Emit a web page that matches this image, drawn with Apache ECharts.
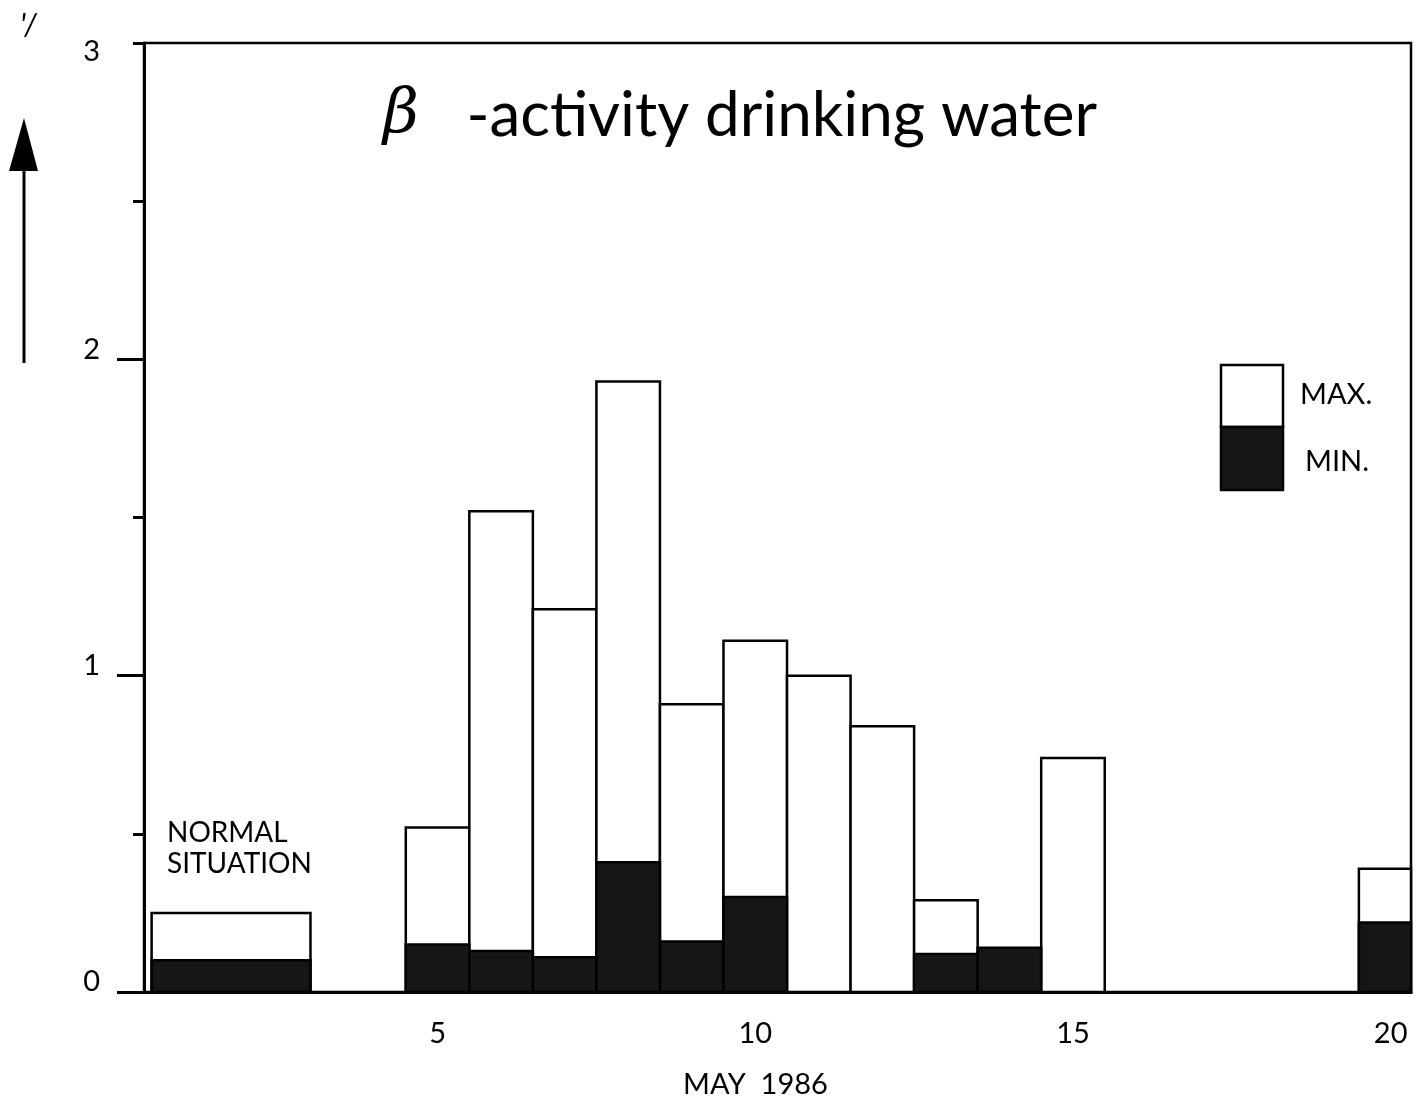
<!DOCTYPE html>
<html>
<head>
<meta charset="utf-8">
<title>β-activity drinking water</title>
<script src="https://cdn.jsdelivr.net/npm/echarts@6/dist/echarts.min.js"></script>
<style>
  html, body { margin: 0; padding: 0; background: #fff; }
  #chart { width: 1418px; height: 1104px; }
</style>
</head>
<body>
<div id="chart"></div>
<script>
// Sampling periods (days of May 1986); the first one is the normal background level
const periodLabels = ['NORMAL SITUATION', '5', '6', '7', '8', '9', '10', '11', '12', '13', '14', '15', '20'];
const periodFrom = [0.5, 4.5, 5.5, 6.5, 7.5, 8.5, 9.5, 10.5, 11.5, 12.5, 13.5, 14.5, 19.5];
const periodTo   = [3.0, 5.5, 6.5, 7.5, 8.5, 9.5, 10.5, 11.5, 12.5, 13.5, 14.5, 15.5, 20.5];

// Beta activity, maximum and minimum per day
const maxValues = [0.25, 0.52, 1.52, 1.21, 1.93, 0.91, 1.11, 1.00, 0.84, 0.29, null, 0.74, 0.39];
const minValues = [0.10, 0.15, 0.13, 0.11, 0.41, 0.16, 0.30, null, null, 0.12, 0.14, null, 0.22];

// Axis ticks
const dayTicks = [5, 10, 15, 20];
const majorTicks = [0, 1, 2];
const minorTicks = [0.5, 1.5, 2.5, 3];

const FONT = 'Lato, "DejaVu Sans", sans-serif';

function toItems(values) {
  const out = [];
  values.forEach(function (v, i) {
    if (v != null) out.push([periodFrom[i], periodTo[i], v, periodLabels[i]]);
  });
  return out;
}

function boxRenderer(fill) {
  return function (params, api) {
    const p0 = api.coord([api.value(0), 0]);
    const p1 = api.coord([api.value(1), api.value(2)]);
    const shape = echarts.graphic.clipRectByRect({
      x: p0[0], y: p1[1], width: p1[0] - p0[0], height: p0[1] - p1[1]
    }, {
      x: params.coordSys.x, y: params.coordSys.y - 2,
      width: params.coordSys.width, height: params.coordSys.height + 4
    });
    if (!shape) return null;
    return {
      type: 'rect',
      shape: shape,
      style: { fill: fill, stroke: '#000', lineWidth: 2.5 }
    };
  };
}

const chart = echarts.init(document.getElementById('chart'), null, { renderer: 'canvas' });

chart.setOption({
  backgroundColor: '#fff',
  animation: false,
  title: {
    text: '{beta|β}   -activity drinking water',
    left: 378,
    top: 80,
    textStyle: {
      fontFamily: FONT,
      fontSize: 62,
      fontWeight: 'normal',
      color: '#000',
      rich: {
        beta: {
          fontFamily: '"DejaVu Serif", serif',
          fontStyle: 'italic',
          fontSize: 62,
          color: '#000'
        }
      }
    }
  },
  grid: {
    left: 144, right: 7, top: 43, bottom: 110,
    show: true, borderColor: '#000', borderWidth: 2.5, backgroundColor: 'transparent'
  },
  xAxis: {
    type: 'value',
    min: 0.38,
    max: 20.32,
    name: 'MAY  1986',
    nameLocation: 'middle',
    nameGap: 78,
    nameTextStyle: {
      fontFamily: FONT, fontSize: 29, color: '#000', padding: [0, 44, 0, 0]
    },
    axisLine: { show: true, onZero: false, lineStyle: { color: '#000', width: 3 } },
    axisTick: { show: false },
    splitLine: { show: false },
    axisLabel: {
      customValues: dayTicks,
      margin: 27,
      fontFamily: FONT, fontSize: 29, color: '#000'
    }
  },
  yAxis: [
    {
      type: 'value',
      min: 0, max: 3, interval: 1,
      position: 'left',
      axisLine: { show: true, lineStyle: { color: '#000', width: 3 } },
      axisTick: { show: true, customValues: majorTicks, length: 27, lineStyle: { color: '#000', width: 3 } },
      splitLine: { show: false },
      axisLabel: {
        margin: 44,
        formatter: function (v) { return v === 3 ? '{low|' + v + '}' : '{up|' + v + '}'; },
        rich: {
          low: { fontFamily: FONT, fontSize: 29, color: '#000', padding: [18, 0, 0, 0] },
          up: { fontFamily: FONT, fontSize: 29, color: '#000', padding: [0, 0, 20, 0] }
        }
      }
    },
    {
      type: 'value',
      min: 0, max: 3, interval: 0.5,
      position: 'left',
      axisLine: { show: false },
      axisTick: { show: true, customValues: minorTicks, length: 11, lineStyle: { color: '#000', width: 3 } },
      splitLine: { show: false },
      axisLabel: { show: false }
    }
  ],
  series: [
    {
      name: 'MAX.',
      type: 'custom',
      renderItem: boxRenderer('#ffffff'),
      encode: { x: [0, 1], y: 2 },
      data: toItems(maxValues),
      z: 2
    },
    {
      name: 'MIN.',
      type: 'custom',
      renderItem: boxRenderer('#161616'),
      encode: { x: [0, 1], y: 2 },
      data: toItems(minValues),
      z: 3
    }
  ],
  graphic: [
    // rising-activity arrow beside the y axis
    { type: 'line', shape: { x1: 24, y1: 363, x2: 24, y2: 160 }, style: { stroke: '#000', lineWidth: 3 } },
    { type: 'polygon', shape: { points: [[24, 118], [9, 171], [38, 171]] }, style: { fill: '#000' } },
    { type: 'text', left: 20, top: 10, style: { text: '\'/', fontFamily: FONT, fontSize: 30, fontStyle: 'italic', fill: '#000' } },
    // annotation of the background level bar
    {
      type: 'text', left: 167, top: 817,
      style: { text: 'NORMAL\nSITUATION', fontFamily: FONT, fontSize: 28, lineHeight: 31, fill: '#000' }
    },
    // key
    { type: 'rect', shape: { x: 1221, y: 365, width: 62, height: 62 }, style: { fill: '#fff', stroke: '#000', lineWidth: 2.5 } },
    { type: 'rect', shape: { x: 1221, y: 427, width: 62, height: 63 }, style: { fill: '#161616', stroke: '#000', lineWidth: 2.5 } },
    { type: 'text', left: 1300, top: 380, style: { text: 'MAX.', fontFamily: FONT, fontSize: 29, fill: '#000' } },
    { type: 'text', left: 1305, top: 447, style: { text: 'MIN.', fontFamily: FONT, fontSize: 29, fill: '#000' } }
  ]
});
</script>
</body>
</html>
